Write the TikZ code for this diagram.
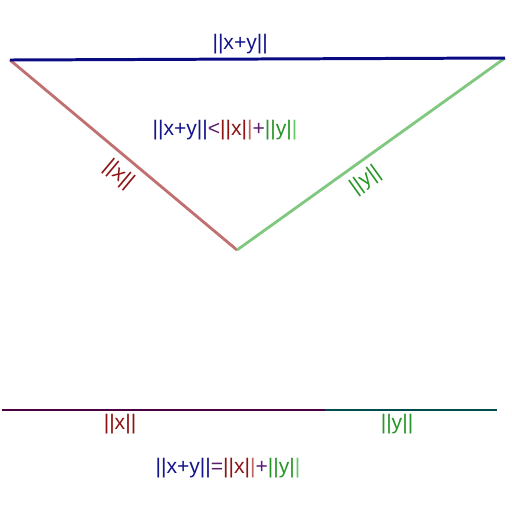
\documentclass[tikz,border=0pt]{standalone}
\usepackage{fontspec}
\setmainfont{Liberation Sans}
\definecolor{navy}{RGB}{20,20,140}
\definecolor{topline}{RGB}{10,10,130}
\definecolor{xline}{RGB}{192,112,112}
\definecolor{yline}{RGB}{128,200,128}
\definecolor{xtext}{RGB}{140,20,20}
\definecolor{xlight}{RGB}{192,100,100}
\definecolor{ytext}{RGB}{40,150,40}
\definecolor{ylight}{RGB}{100,200,100}
\definecolor{optext}{RGB}{90,30,110}
\definecolor{xbottom}{RGB}{75,0,65}
\definecolor{ybottom}{RGB}{0,75,75}
\newcommand{\normx}{\textcolor{xtext}{||x|}\textcolor{xlight}{|}}
\newcommand{\normy}{\textcolor{ytext}{||y|}\textcolor{ylight}{|}}
\begin{document}
\begin{tikzpicture}[x=0.02cm,y=-0.02cm,
  lbl/.style={font=\fontsize{12}{14}\selectfont,inner sep=1pt}]
\useasboundingbox (0,0) rectangle (512,512);
% triangle
\coordinate (A) at (10,60);
\coordinate (B) at (505,58);
\coordinate (C) at (237,250);
\draw[xline,line width=1.6pt] (A) -- node[lbl,sloped,pos=0.53,below=3pt,text=xtext] (xlab) {||x||} (C);
\draw[yline,line width=1.6pt] (C) -- node[lbl,sloped,pos=0.44,below=3pt,text=ytext] (ylab) {||y||} (B);
\draw[topline,line width=1.7pt] (A) -- node[lbl,above=1pt,pos=0.465,text=navy] (sumlab) {||x+y||} (B);
\node[lbl] (ineq) at (225,130) {\textcolor{navy}{||x+y||}\textcolor{optext}{<}\normx\textcolor{optext}{+}\normy};
% collinear case
\coordinate (P) at (2,410);
\coordinate (Q) at (325,410);
\coordinate (R) at (497,410);
\draw[xbottom,line width=1.6pt] (P) -- (Q);
\draw[ybottom,line width=1.6pt] (Q) -- (R);
\node[lbl,text=xtext] (xbot) at (120,424) {||x||};
\node[lbl,text=ytext] (ybot) at (397,424) {||y||};
\node[lbl] (eq) at (228,468) {\textcolor{navy}{||x+y||}\textcolor{optext}{=}\normx\textcolor{optext}{+}\normy};
\end{tikzpicture}
\end{document}
